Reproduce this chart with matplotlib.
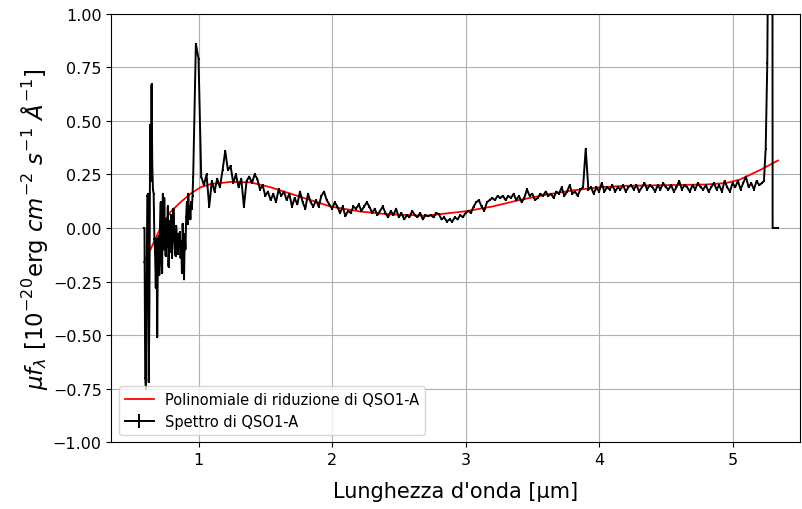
import numpy as np
import matplotlib
matplotlib.use('Agg')
import matplotlib.pyplot as plt

# spettro di QSO1-A, parte blu (rumorosa)
flux_blu = [0.00, 0.00, -0.70, -0.75, -0.30, 0.15, 0.16, -0.72, -0.35, 0.48,
            0.22, 0.67, 0.30, 0.18, 0.16, -0.05, -0.12, -0.28, -0.05, -0.51,
            -0.12, -0.04, -0.22, 0.02, 0.12, -0.16, -0.21, 0.16, -0.10, 0.14,
            -0.06, -0.13, 0.04, -0.09, 0.10, -0.18, -0.05, 0.03, -0.11, 0.06,
            -0.14, -0.04, 0.09, 0.00, -0.10, -0.13, 0.01, -0.06, -0.12, -0.03,
            -0.09, -0.02, -0.14, -0.06, -0.21, 0.02, -0.08, -0.24, -0.03, -0.10,
            0.05, 0.12, 0.02, 0.16, 0.06, 0.10, 0.04, 0.12, 0.09, 0.15]
wl_blu_start, wl_blu_stop = 0.59, 0.955

# parte centrale, passo 0.02 um da 0.96 a 5.22
flux_centro = [0.24, 0.86, 0.79, 0.24, 0.20, 0.25, 0.10, 0.22, 0.17, 0.23,
               0.19, 0.27, 0.36, 0.27, 0.29, 0.21, 0.25, 0.19, 0.23, 0.10,
               0.22, 0.24, 0.21, 0.25, 0.23, 0.18, 0.20, 0.15, 0.17, 0.13,
               0.16, 0.12, 0.18, 0.15, 0.17, 0.13, 0.16, 0.10, 0.14, 0.11,
               0.17, 0.12, 0.09, 0.16, 0.12, 0.10, 0.13, 0.10, 0.15, 0.17,
               0.13, 0.11, 0.09, 0.12, 0.10, 0.07, 0.10, 0.055, 0.08, 0.07,
               0.10, 0.09, 0.11, 0.08, 0.10, 0.12, 0.10, 0.07, 0.09, 0.06,
               0.08, 0.10, 0.07, 0.05, 0.08, 0.06, 0.09, 0.05, 0.07, 0.04,
               0.06, 0.05, 0.08, 0.06, 0.05, 0.07, 0.04, 0.06, 0.055, 0.06,
               0.05, 0.07, 0.065, 0.04, 0.05, 0.03, 0.04, 0.03, 0.05, 0.04,
               0.06, 0.05, 0.07, 0.08, 0.07, 0.10, 0.12, 0.13, 0.10, 0.08,
               0.12, 0.13, 0.14, 0.13, 0.15, 0.14, 0.15, 0.13, 0.15, 0.14,
               0.16, 0.13, 0.15, 0.12, 0.14, 0.18, 0.15, 0.16, 0.13, 0.14,
               0.16, 0.15, 0.17, 0.15, 0.16, 0.14, 0.17, 0.16, 0.19, 0.15,
               0.17, 0.20, 0.16, 0.17, 0.15, 0.18, 0.19, 0.37, 0.18, 0.19,
               0.16, 0.19, 0.17, 0.21, 0.17, 0.19, 0.18, 0.20, 0.17, 0.19,
               0.18, 0.20, 0.17, 0.19, 0.20, 0.18, 0.20, 0.17, 0.19, 0.21,
               0.18, 0.20, 0.19, 0.17, 0.20, 0.18, 0.21, 0.19, 0.18, 0.20,
               0.17, 0.19, 0.22, 0.18, 0.20, 0.19, 0.17, 0.20, 0.18, 0.21,
               0.19, 0.18, 0.20, 0.17, 0.19, 0.21, 0.18, 0.20, 0.17, 0.22,
               0.19, 0.17, 0.21, 0.19, 0.22, 0.18, 0.21, 0.24, 0.19, 0.21,
               0.18, 0.22, 0.20, 0.21]
wl_centro_start, wl_centro_stop = 0.96, 5.22

# coda rossa
wl_coda = [5.235, 5.248, 5.26, 5.27, 5.29, 5.298, 5.300, 5.34]
flux_coda = [0.22, 0.37, 0.77, 1.6, 2.2, 2.0, 0.0, 0.0]

errore = 0.005

# polinomiale di riduzione
wl_poli = [0.59, 0.64, 0.715, 0.79, 0.865, 0.94, 1.015, 1.09, 1.24, 1.39,
           1.54, 1.69, 1.84, 1.99, 2.21, 2.4, 2.7, 3.0, 3.2, 3.4, 3.6, 3.8,
           4.0, 4.2, 4.5, 4.8, 4.95, 5.05, 5.12, 5.22, 5.34]
flux_poli = [-0.16, -0.10, 0.0, 0.075, 0.12, 0.16, 0.19, 0.205, 0.215, 0.213,
             0.19, 0.16, 0.13, 0.10, 0.077, 0.065, 0.057, 0.078, 0.10, 0.13,
             0.155, 0.175, 0.19, 0.197, 0.20, 0.203, 0.21, 0.225, 0.245, 0.275,
             0.315]

wl = np.concatenate([np.linspace(wl_blu_start, wl_blu_stop, len(flux_blu)),
                     np.linspace(wl_centro_start, wl_centro_stop, len(flux_centro)),
                     wl_coda])
flux = np.concatenate([flux_blu, flux_centro, flux_coda])

fig = plt.figure(figsize=(8.02, 5.10), dpi=100)
ax = fig.add_axes([0.139, 0.131, 0.858, 0.840])

ax.plot(wl_poli, flux_poli, color='red', linewidth=1.3, label='Polinomiale di riduzione di QSO1-A')
ax.errorbar(wl, flux, yerr=errore, color='black', linewidth=1.4, label='Spettro di QSO1-A')

ax.set_xlim(0.348, 5.502)
ax.set_ylim(-1, 1)
ax.set_yticks([-1, -0.75, -0.5, -0.25, 0, 0.25, 0.5, 0.75, 1])
ax.tick_params(labelsize=11.5)
ax.grid(True)

ax.set_xlabel("Lunghezza d'onda [µm]", fontsize=15, labelpad=10)
ax.set_ylabel(r'$\mu f_\lambda$ [$10^{-20}$erg $cm^{-2}$ $s^{-1}$ $\AA^{-1}$]', fontsize=16.5, labelpad=2)
ax.legend(loc='lower left', fontsize=10.5)

fig.savefig('out.png', dpi=100)
